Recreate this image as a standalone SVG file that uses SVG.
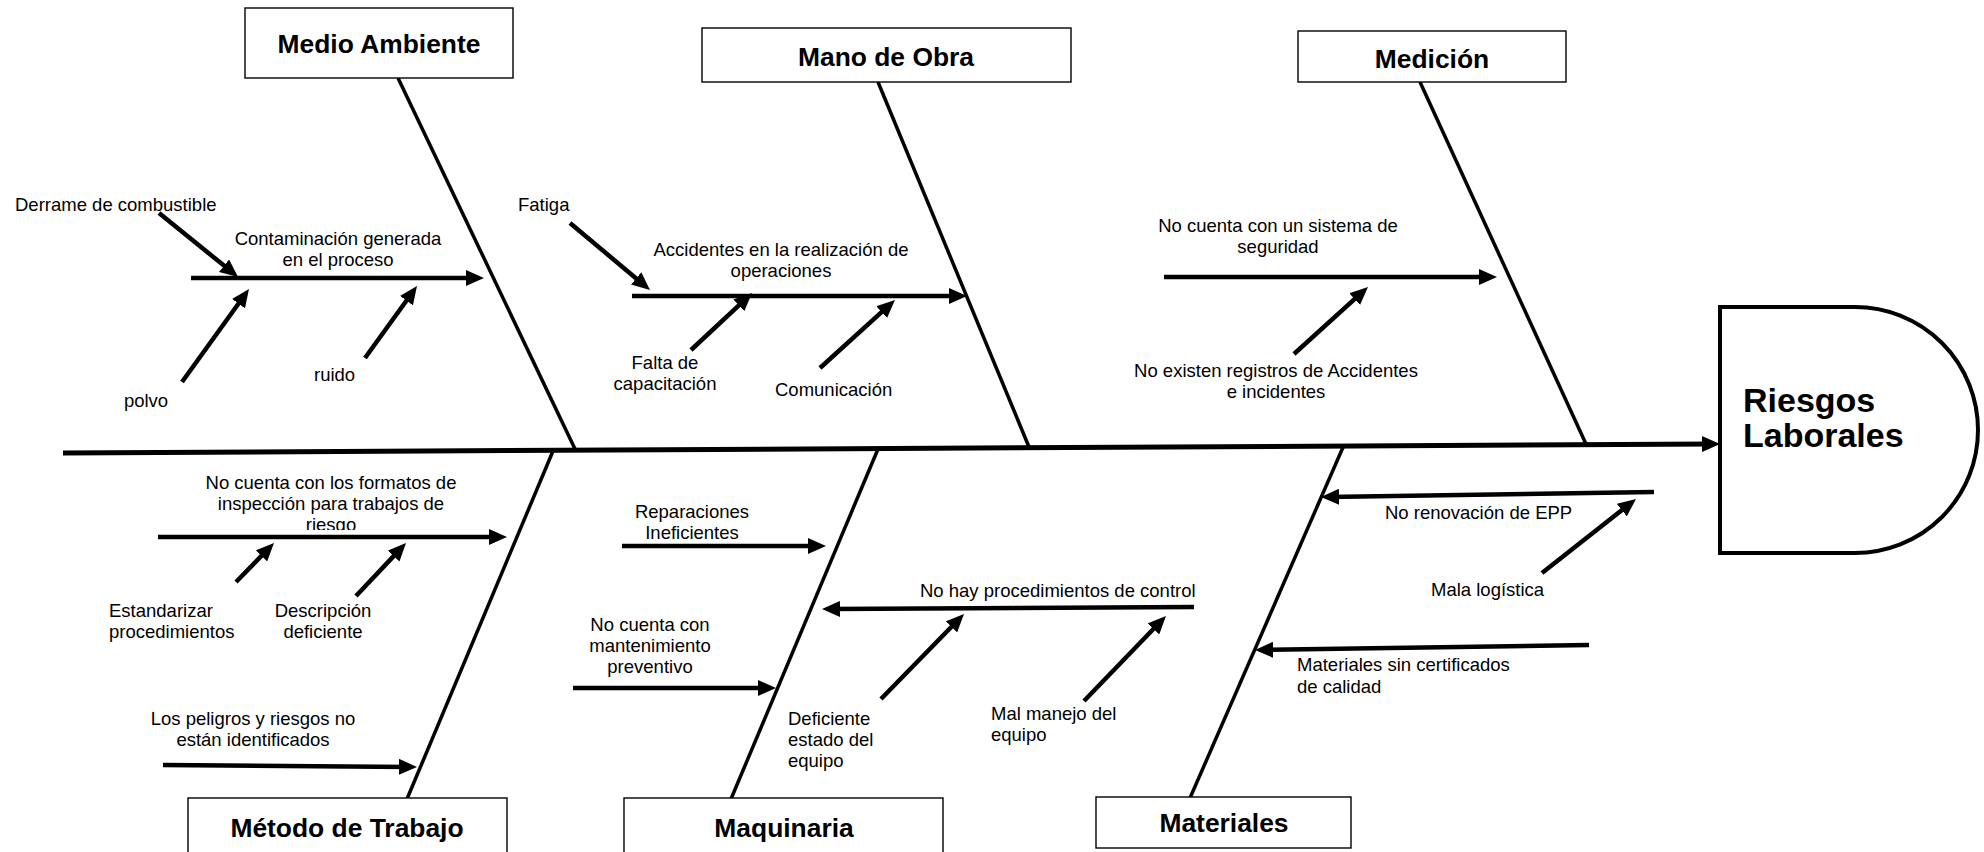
<svg xmlns="http://www.w3.org/2000/svg" width="1984" height="852" viewBox="0 0 1984 852">
  <style>
    .bg { fill: #ffffff; }
    .box { fill: #ffffff; stroke: #000000; stroke-width: 1.4; }
    .title { font-family: "Liberation Sans", Arial, sans-serif; font-weight: bold; font-size: 26.4px; fill: #000; text-anchor: middle; }
    .head-text { font-family: "Liberation Sans", Arial, sans-serif; font-weight: bold; font-size: 34px; fill: #000; }
    .lbl { font-family: "Liberation Sans", Arial, sans-serif; font-size: 18.5px; fill: #000; }
    .mid { text-anchor: middle; }
    .spine { stroke: #000; stroke-width: 5; fill: none; }
    .bone { stroke: #000; stroke-width: 3.5; fill: none; }
    .cause { stroke: #000; stroke-width: 4.5; fill: none; marker-end: url(#ah); }
    .head { fill: #ffffff; stroke: #000; stroke-width: 4; }
  </style>
  <defs>
    <marker id="ah" markerUnits="userSpaceOnUse" markerWidth="20" markerHeight="16" refX="11" refY="8" orient="auto">
      <path d="M0,0 L18,8 L0,16 Z" fill="#000"/>
    </marker>
    <clipPath id="clip-formatos">
      <rect x="150" y="460" width="380" height="70"/>
    </clipPath>
  </defs>

  <rect class="bg" x="0" y="0" width="1984" height="852"/>

  <!-- spine, category bones and cause arrows -->
  <g id="connectors">
    <line class="spine" x1="63" y1="453" x2="1713" y2="444" marker-end="url(#ah)"/>

    <line class="bone" x1="398" y1="78" x2="575" y2="449"/>
    <line class="bone" x1="878" y1="82" x2="1029" y2="447"/>
    <line class="bone" x1="1420" y1="82" x2="1586" y2="444"/>
    <line class="bone" x1="553" y1="451" x2="407" y2="799"/>
    <line class="bone" x1="878" y1="449" x2="731" y2="799"/>
    <line class="bone" x1="1344" y1="445" x2="1190" y2="798"/>

    <!-- Medio Ambiente -->
    <line class="cause" x1="191" y1="278" x2="477" y2="278"/>
    <line class="cause" x1="159" y1="213" x2="232.6" y2="272.6"/>
    <line class="cause" x1="182" y1="382" x2="244.9" y2="294.7"/>
    <line class="cause" x1="365" y1="358" x2="412.9" y2="291.7"/>

    <!-- Mano de Obra -->
    <line class="cause" x1="632" y1="296" x2="960" y2="296"/>
    <line class="cause" x1="570" y1="223" x2="644.6" y2="285.5"/>
    <line class="cause" x1="691" y1="350" x2="746.9" y2="297.8"/>
    <line class="cause" x1="820" y1="368" x2="889.8" y2="304.7"/>

    <!-- Medicion -->
    <line class="cause" x1="1164" y1="277" x2="1490" y2="277"/>
    <line class="cause" x1="1294" y1="354" x2="1362.8" y2="291.7"/>

    <!-- Metodo de Trabajo -->
    <line class="cause" x1="158" y1="537" x2="500" y2="537"/>
    <line class="cause" x1="236" y1="582" x2="269.1" y2="548"/>
    <line class="cause" x1="356" y1="596" x2="401.2" y2="548.1"/>
    <line class="cause" x1="163" y1="765" x2="410" y2="766.9"/>

    <!-- Maquinaria -->
    <line class="cause" x1="622" y1="546" x2="819" y2="546"/>
    <line class="cause" x1="573" y1="688" x2="769" y2="688"/>
    <line class="cause" x1="1194" y1="607" x2="829" y2="609"/>
    <line class="cause" x1="881" y1="699" x2="959.1" y2="619"/>
    <line class="cause" x1="1084" y1="701" x2="1161.1" y2="621"/>

    <!-- Materiales -->
    <line class="cause" x1="1654" y1="492" x2="1328" y2="496.9"/>
    <line class="cause" x1="1542" y1="573" x2="1630.5" y2="503.3"/>
    <line class="cause" x1="1589" y1="645" x2="1262" y2="649.9"/>
  </g>

  <!-- effect head -->
  <g id="riesgos-laborales">
    <path class="head" d="M1720,307 L1855,307 A123,123 0 0 1 1855,553 L1720,553 Z"/>
    <text class="head-text" x="1743" y="412">Riesgos</text>
    <text class="head-text" x="1743" y="447">Laborales</text>
  </g>

  <!-- category boxes -->
  <g id="medio-ambiente">
    <rect class="box" x="245" y="8" width="268" height="70"/>
    <text class="title" x="379" y="53">Medio Ambiente</text>
  </g>
  <g id="mano-de-obra">
    <rect class="box" x="702" y="28" width="369" height="54"/>
    <text class="title" x="886" y="66">Mano de Obra</text>
  </g>
  <g id="medicion">
    <rect class="box" x="1298" y="31" width="268" height="51"/>
    <text class="title" x="1432" y="68">Medición</text>
  </g>
  <g id="metodo-de-trabajo">
    <rect class="box" x="188" y="798" width="319" height="80"/>
    <text class="title" x="347" y="837">Método de Trabajo</text>
  </g>
  <g id="maquinaria">
    <rect class="box" x="624" y="798" width="319" height="80"/>
    <text class="title" x="784" y="837">Maquinaria</text>
  </g>
  <g id="materiales">
    <rect class="box" x="1096" y="797" width="255" height="51"/>
    <text class="title" x="1224" y="832">Materiales</text>
  </g>

  <!-- cause labels -->
  <g id="contaminacion">
    <text class="lbl mid" x="338" y="245">Contaminación generada</text>
    <text class="lbl mid" x="338" y="266">en el proceso</text>
  </g>
  <g id="derrame"><text class="lbl" x="15" y="211">Derrame de combustible</text></g>
  <g id="polvo"><text class="lbl mid" x="146" y="407">polvo</text></g>
  <g id="ruido"><text class="lbl" x="314" y="381">ruido</text></g>

  <g id="accidentes">
    <text class="lbl mid" x="781" y="256">Accidentes en la realización de</text>
    <text class="lbl mid" x="781" y="277">operaciones</text>
  </g>
  <g id="fatiga"><text class="lbl" x="518" y="211">Fatiga</text></g>
  <g id="falta-capacitacion">
    <text class="lbl mid" x="665" y="369">Falta de</text>
    <text class="lbl mid" x="665" y="390">capacitación</text>
  </g>
  <g id="comunicacion"><text class="lbl" x="775" y="396">Comunicación</text></g>

  <g id="sistema-seguridad">
    <text class="lbl mid" x="1278" y="232">No cuenta con un sistema de</text>
    <text class="lbl mid" x="1278" y="253">seguridad</text>
  </g>
  <g id="registros">
    <text class="lbl mid" x="1276" y="377">No existen registros de Accidentes</text>
    <text class="lbl mid" x="1276" y="398">e incidentes</text>
  </g>

  <g id="formatos" clip-path="url(#clip-formatos)">
    <text class="lbl mid" x="331" y="489">No cuenta con los formatos de</text>
    <text class="lbl mid" x="331" y="510">inspección para trabajos de</text>
    <text class="lbl mid" x="331" y="531">riesgo</text>
  </g>
  <g id="estandarizar">
    <text class="lbl" x="109" y="617">Estandarizar</text>
    <text class="lbl" x="109" y="638">procedimientos</text>
  </g>
  <g id="descripcion">
    <text class="lbl mid" x="323" y="617">Descripción</text>
    <text class="lbl mid" x="323" y="638">deficiente</text>
  </g>
  <g id="peligros">
    <text class="lbl mid" x="253" y="725">Los peligros y riesgos no</text>
    <text class="lbl mid" x="253" y="746">están identificados</text>
  </g>

  <g id="reparaciones">
    <text class="lbl mid" x="692" y="518">Reparaciones</text>
    <text class="lbl mid" x="692" y="539">Ineficientes</text>
  </g>
  <g id="mantenimiento">
    <text class="lbl mid" x="650" y="631">No cuenta con</text>
    <text class="lbl mid" x="650" y="652">mantenimiento</text>
    <text class="lbl mid" x="650" y="673">preventivo</text>
  </g>
  <g id="procedimientos-control"><text class="lbl" x="920" y="597">No hay procedimientos de control</text></g>
  <g id="estado-equipo">
    <text class="lbl" x="788" y="725">Deficiente</text>
    <text class="lbl" x="788" y="746">estado del</text>
    <text class="lbl" x="788" y="767">equipo</text>
  </g>
  <g id="manejo-equipo">
    <text class="lbl" x="991" y="720">Mal manejo del</text>
    <text class="lbl" x="991" y="741">equipo</text>
  </g>

  <g id="renovacion-epp"><text class="lbl" x="1385" y="519">No renovación de EPP</text></g>
  <g id="logistica"><text class="lbl" x="1431" y="596">Mala logística</text></g>
  <g id="certificados">
    <text class="lbl" x="1297" y="671">Materiales sin certificados</text>
    <text class="lbl" x="1297" y="693">de calidad</text>
  </g>
</svg>
